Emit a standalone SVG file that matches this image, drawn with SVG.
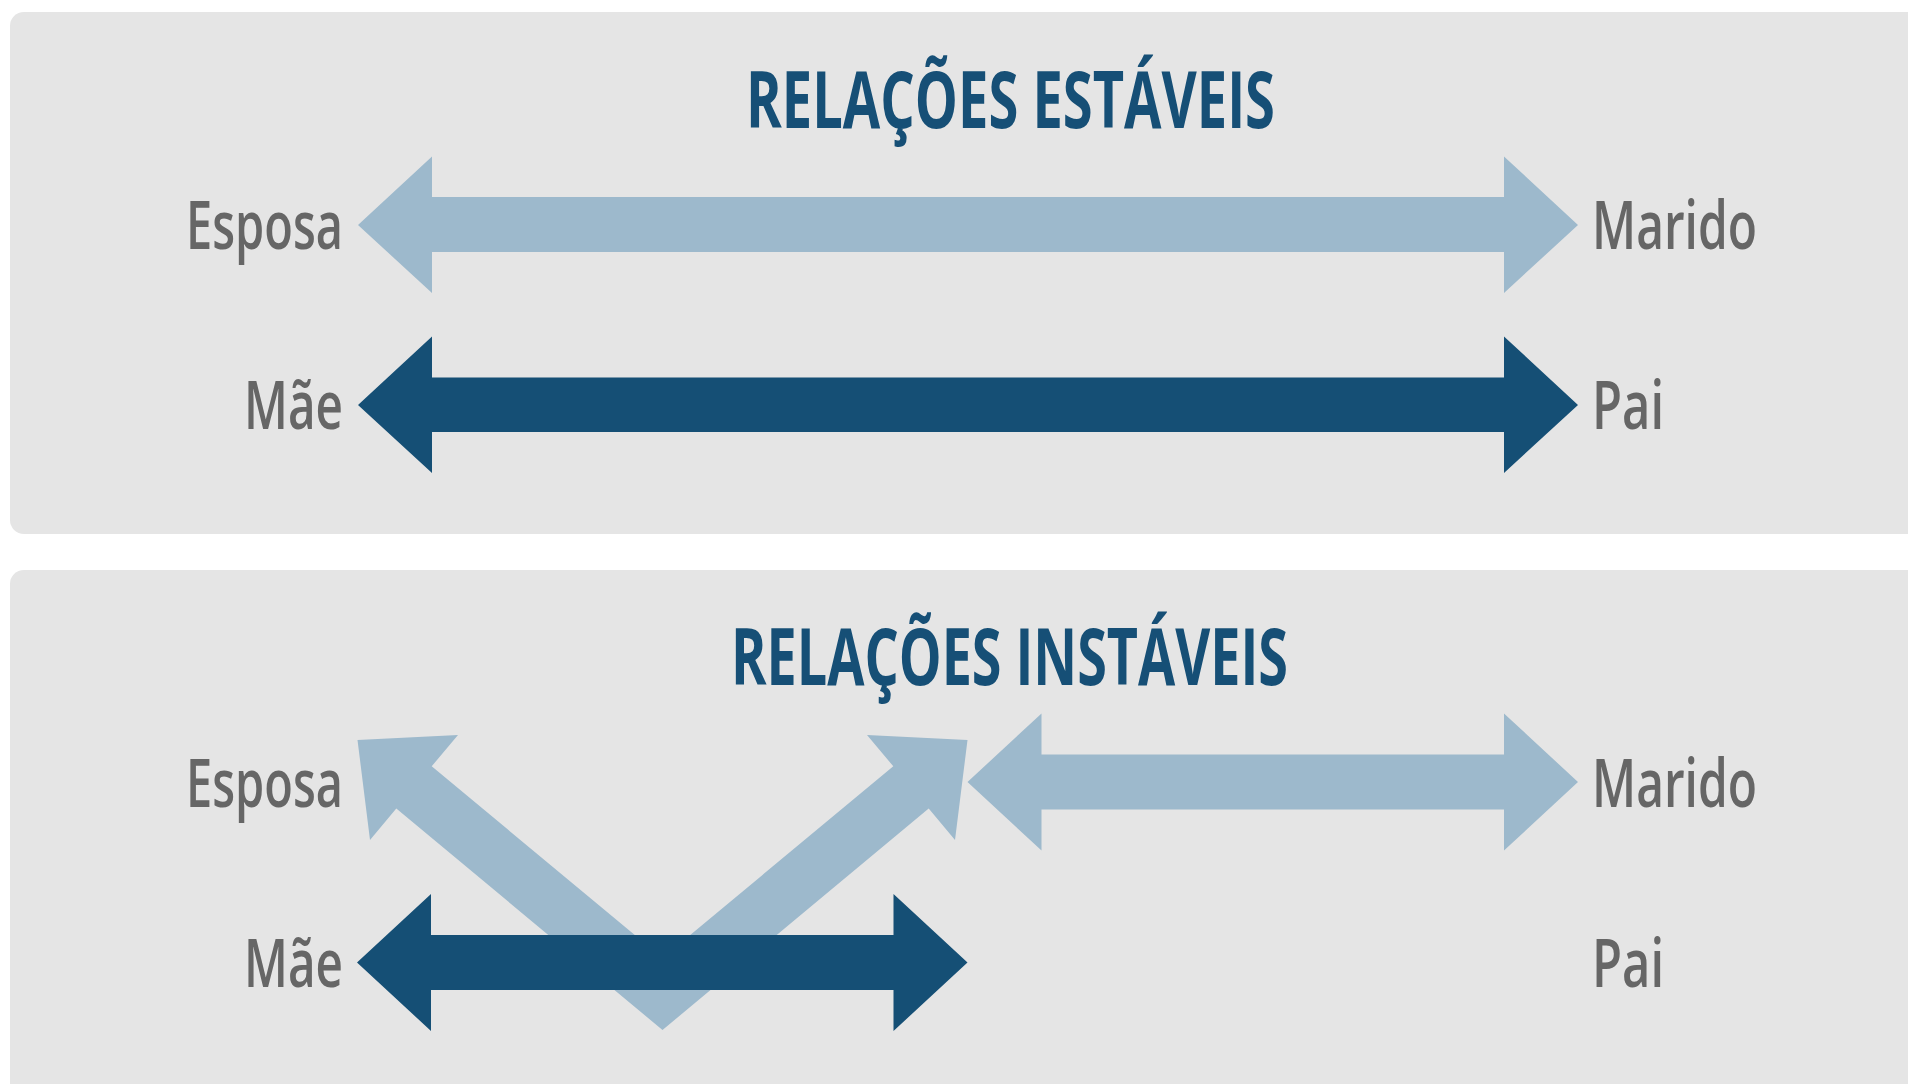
<svg xmlns="http://www.w3.org/2000/svg" width="1908" height="1084" viewBox="0 0 1908 1084">
<style>
.panel{fill:#e5e5e5}
.title{font-family:"Open Sans","Liberation Sans",sans-serif;font-weight:700;font-size:78px;fill:#164f76}
.lbl{font-family:"Open Sans","Liberation Sans",sans-serif;font-weight:650;font-size:67px;fill:#666666}
.light{fill:#9db9cc}
.dark{fill:#154f75}
</style>
<rect width="1908" height="1084" fill="#ffffff"/>
<g id="panel-estaveis">
<rect class="panel" x="10" y="12" width="1940" height="522" rx="14"/>
<text class="title" x="746" y="128" textLength="529" lengthAdjust="spacingAndGlyphs">RELAÇÕES ESTÁVEIS</text>
</g>
<g id="panel-instaveis">
<rect class="panel" x="10" y="570" width="1940" height="560" rx="14"/>
<text class="title" x="731" y="685" textLength="557" lengthAdjust="spacingAndGlyphs">RELAÇÕES INSTÁVEIS</text>
</g>
<g id="connectors">
<polygon id="top-esposa-marido" class="light" points="358,225 432,156.5 432,197 1504,197 1504,156.5 1578,225 1504,293 1504,252 432,252 432,293"/>
<polygon id="top-mae-pai" class="dark" points="358,405 432,336.5 432,377.5 1504,377.5 1504,336.5 1578,405 1504,473 1504,432 432,432 432,473"/>
<polygon id="bottom-v" class="light" points="357.5,740 458,735 431.7,766.3 662.5,958 893.3,766.3 867,735 967.5,740 955,840 928.7,808.5 662.5,1030 396.3,808.5 370,840"/>
<polygon id="bottom-esposa-marido" class="light" points="967.5,782 1041.5,713.5 1041.5,754.5 1504,754.5 1504,713.5 1578,782 1504,850.5 1504,809.5 1041.5,809.5 1041.5,850.5"/>
<polygon id="bottom-mae" class="dark" points="357,962.5 431,894 431,935 893.5,935 893.5,894 967.5,962.5 893.5,1031 893.5,990 431,990 431,1031"/>
</g>
<g id="node-esposa-top"><text class="lbl" x="343" y="249" text-anchor="end" textLength="157" lengthAdjust="spacingAndGlyphs">Esposa</text></g>
<g id="node-mae-top"><text class="lbl" x="343" y="429" text-anchor="end" textLength="99" lengthAdjust="spacingAndGlyphs">Mãe</text></g>
<g id="node-marido-top"><text class="lbl" x="1592" y="249" textLength="165" lengthAdjust="spacingAndGlyphs">Marido</text></g>
<g id="node-pai-top"><text class="lbl" x="1592" y="429" textLength="72" lengthAdjust="spacingAndGlyphs">Pai</text></g>
<g id="node-esposa-bottom"><text class="lbl" x="343" y="806.5" text-anchor="end" textLength="157" lengthAdjust="spacingAndGlyphs">Esposa</text></g>
<g id="node-mae-bottom"><text class="lbl" x="343" y="986.5" text-anchor="end" textLength="99" lengthAdjust="spacingAndGlyphs">Mãe</text></g>
<g id="node-marido-bottom"><text class="lbl" x="1592" y="806.5" textLength="165" lengthAdjust="spacingAndGlyphs">Marido</text></g>
<g id="node-pai-bottom"><text class="lbl" x="1592" y="986.5" textLength="72" lengthAdjust="spacingAndGlyphs">Pai</text></g>
</svg>
